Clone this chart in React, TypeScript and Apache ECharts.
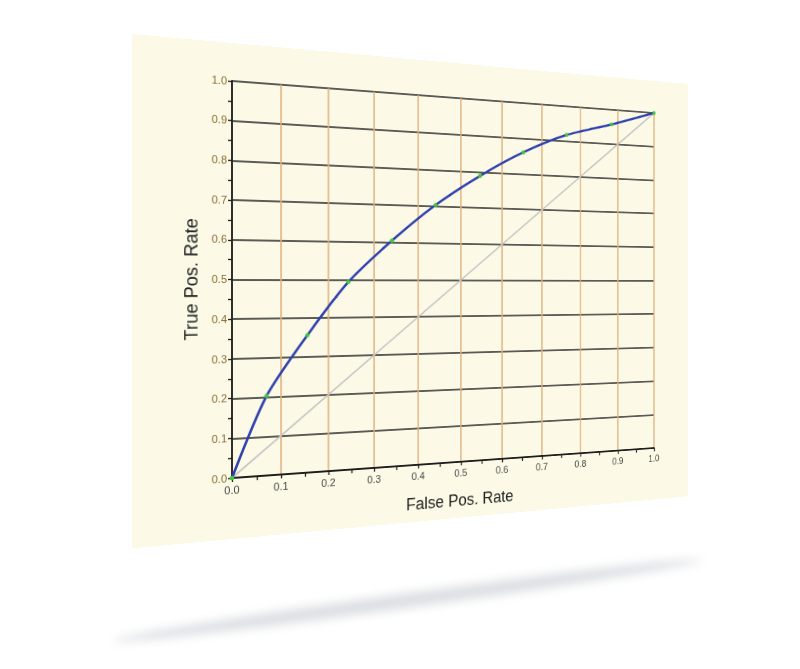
import React, { useEffect, useRef } from "react";
import * as echarts from "echarts";

// ROC curve data
const fpr = [0, 0.07, 0.155, 0.243, 0.34, 0.44, 0.546, 0.653, 0.764, 0.883, 1.0];
const tpr = [0, 0.203, 0.356, 0.494, 0.605, 0.704, 0.789, 0.861, 0.918, 0.957, 1.0];
const diagX = [0, 1];
const diagY = [0, 1];
const xTitle = "False Pos. Rate";
const yTitle = "True Pos. Rate";

// flat layout of the panel
const GL = 96;
const GT = 38;
const PW = 500;
const PH = 397;
const PANEL_W = 644;
const PANEL_H = 496;
// where the plot corners land on screen (TL, TR, BL, BR)
const QUAD = [
  [232, 81],
  [654, 113],
  [232, 478],
  [654, 448],
];

function homography(src: number[][], dst: number[][]) {
  const A: number[][] = [];
  for (let i = 0; i < 4; i++) {
    const [x, y] = src[i];
    const [X, Y] = dst[i];
    A.push([x, y, 1, 0, 0, 0, -X * x, -X * y, X]);
    A.push([0, 0, 0, x, y, 1, -Y * x, -Y * y, Y]);
  }
  const n = 8;
  for (let c = 0; c < n; c++) {
    let p = c;
    for (let r = c + 1; r < n; r++) if (Math.abs(A[r][c]) > Math.abs(A[p][c])) p = r;
    [A[c], A[p]] = [A[p], A[c]];
    for (let r = 0; r < n; r++) {
      if (r === c) continue;
      const f = A[r][c] / A[c][c];
      for (let k = c; k <= n; k++) A[r][k] -= f * A[c][k];
    }
  }
  return A.map((row, i) => row[n] / row[i]);
}

function cssMatrix() {
  const src = [
    [GL, GT],
    [GL + PW, GT],
    [GL, GT + PH],
    [GL + PW, GT + PH],
  ];
  const h = homography(src, QUAD);
  const m = [h[0], h[3], 0, h[6], h[1], h[4], 0, h[7], 0, 0, 1, 0, h[2], h[5], 0, 1];
  return `matrix3d(${m.join(",")})`;
}

const FONT = "'Liberation Sans', Arial, Helvetica, sans-serif";

export default function App() {
  const ref = useRef<HTMLDivElement>(null);
  useEffect(() => {
    if (!ref.current) return;
    const chart = echarts.init(ref.current, undefined, { renderer: "svg" });
    const fmt = (v: number) => v.toFixed(1);
    chart.setOption({
      animation: false,
      backgroundColor: "#fcfae6",
      textStyle: { fontFamily: FONT },
      grid: { left: GL, top: GT, width: PW, height: PH },
      xAxis: {
        type: "value",
        min: 0,
        max: 1,
        interval: 0.1,
        name: xTitle,
        nameLocation: "middle",
        nameGap: 33,
        nameTextStyle: { fontSize: 18, color: "#222", fontFamily: FONT },
        axisLine: { show: true, onZero: false, lineStyle: { color: "#1e1e1e", width: 1.8 } },
        axisTick: { show: true, length: 4, lineStyle: { color: "#1e1e1e", width: 1.3 } },
        minorTick: { show: true, splitNumber: 2, length: 4, lineStyle: { color: "#1e1e1e", width: 1.3 } },
        axisLabel: { margin: 7, fontSize: 11, color: "#444", formatter: fmt, fontFamily: FONT },
        splitLine: { show: true, lineStyle: { color: "#e0b27e", width: 1.6 } },
      },
      yAxis: {
        type: "value",
        min: 0,
        max: 1,
        interval: 0.1,
        name: yTitle,
        nameLocation: "middle",
        nameGap: 23,
        nameTextStyle: { fontSize: 18, color: "#222", fontFamily: FONT },
        axisLine: { show: true, onZero: false, lineStyle: { color: "#1e1e1e", width: 1.8 } },
        axisTick: { show: true, length: 4, lineStyle: { color: "#1e1e1e", width: 1.3 } },
        minorTick: { show: true, splitNumber: 2, length: 4, lineStyle: { color: "#1e1e1e", width: 1.3 } },
        axisLabel: { margin: 5, fontSize: 11, color: "#8a6a35", formatter: fmt, fontFamily: FONT },
        splitLine: { show: true, lineStyle: { color: "#262626", width: 1.7 } },
      },
      series: [
        {
          type: "line",
          data: diagX.map((x, i) => [x, diagY[i]]),
          symbol: "none",
          lineStyle: { color: "#c4c4c4", width: 1.6 },
          z: 3,
        },
        {
          type: "line",
          data: fpr.map((x, i) => [x, tpr[i]]),
          smooth: 0.25,
          symbol: "circle",
          symbolSize: 4.5,
          showAllSymbol: true,
          lineStyle: { color: "#2f3fae", width: 2.6 },
          itemStyle: { color: "#3fc83f", borderWidth: 0 },
          z: 4,
        },
      ],
    });
    return () => chart.dispose();
  }, []);

  return (
    <div
      style={{
        position: "absolute",
        left: 0,
        top: 0,
        width: 800,
        height: 669,
        overflow: "hidden",
        background: "#ffffff",
      }}
    >
      <div
        style={{
          position: "absolute",
          left: 110,
          top: 593,
          width: 595,
          height: 15,
          borderRadius: "50%",
          background: "#dcdfe3",
          filter: "blur(5px)",
          transform: "rotate(-7.8deg)",
          transformOrigin: "50% 50%",
        }}
      />
      <div
        ref={ref}
        style={{
          position: "absolute",
          left: 0,
          top: 0,
          width: PANEL_W,
          height: PANEL_H,
          transformOrigin: "0 0",
          transform: cssMatrix(),
        }}
      />
    </div>
  );
}
